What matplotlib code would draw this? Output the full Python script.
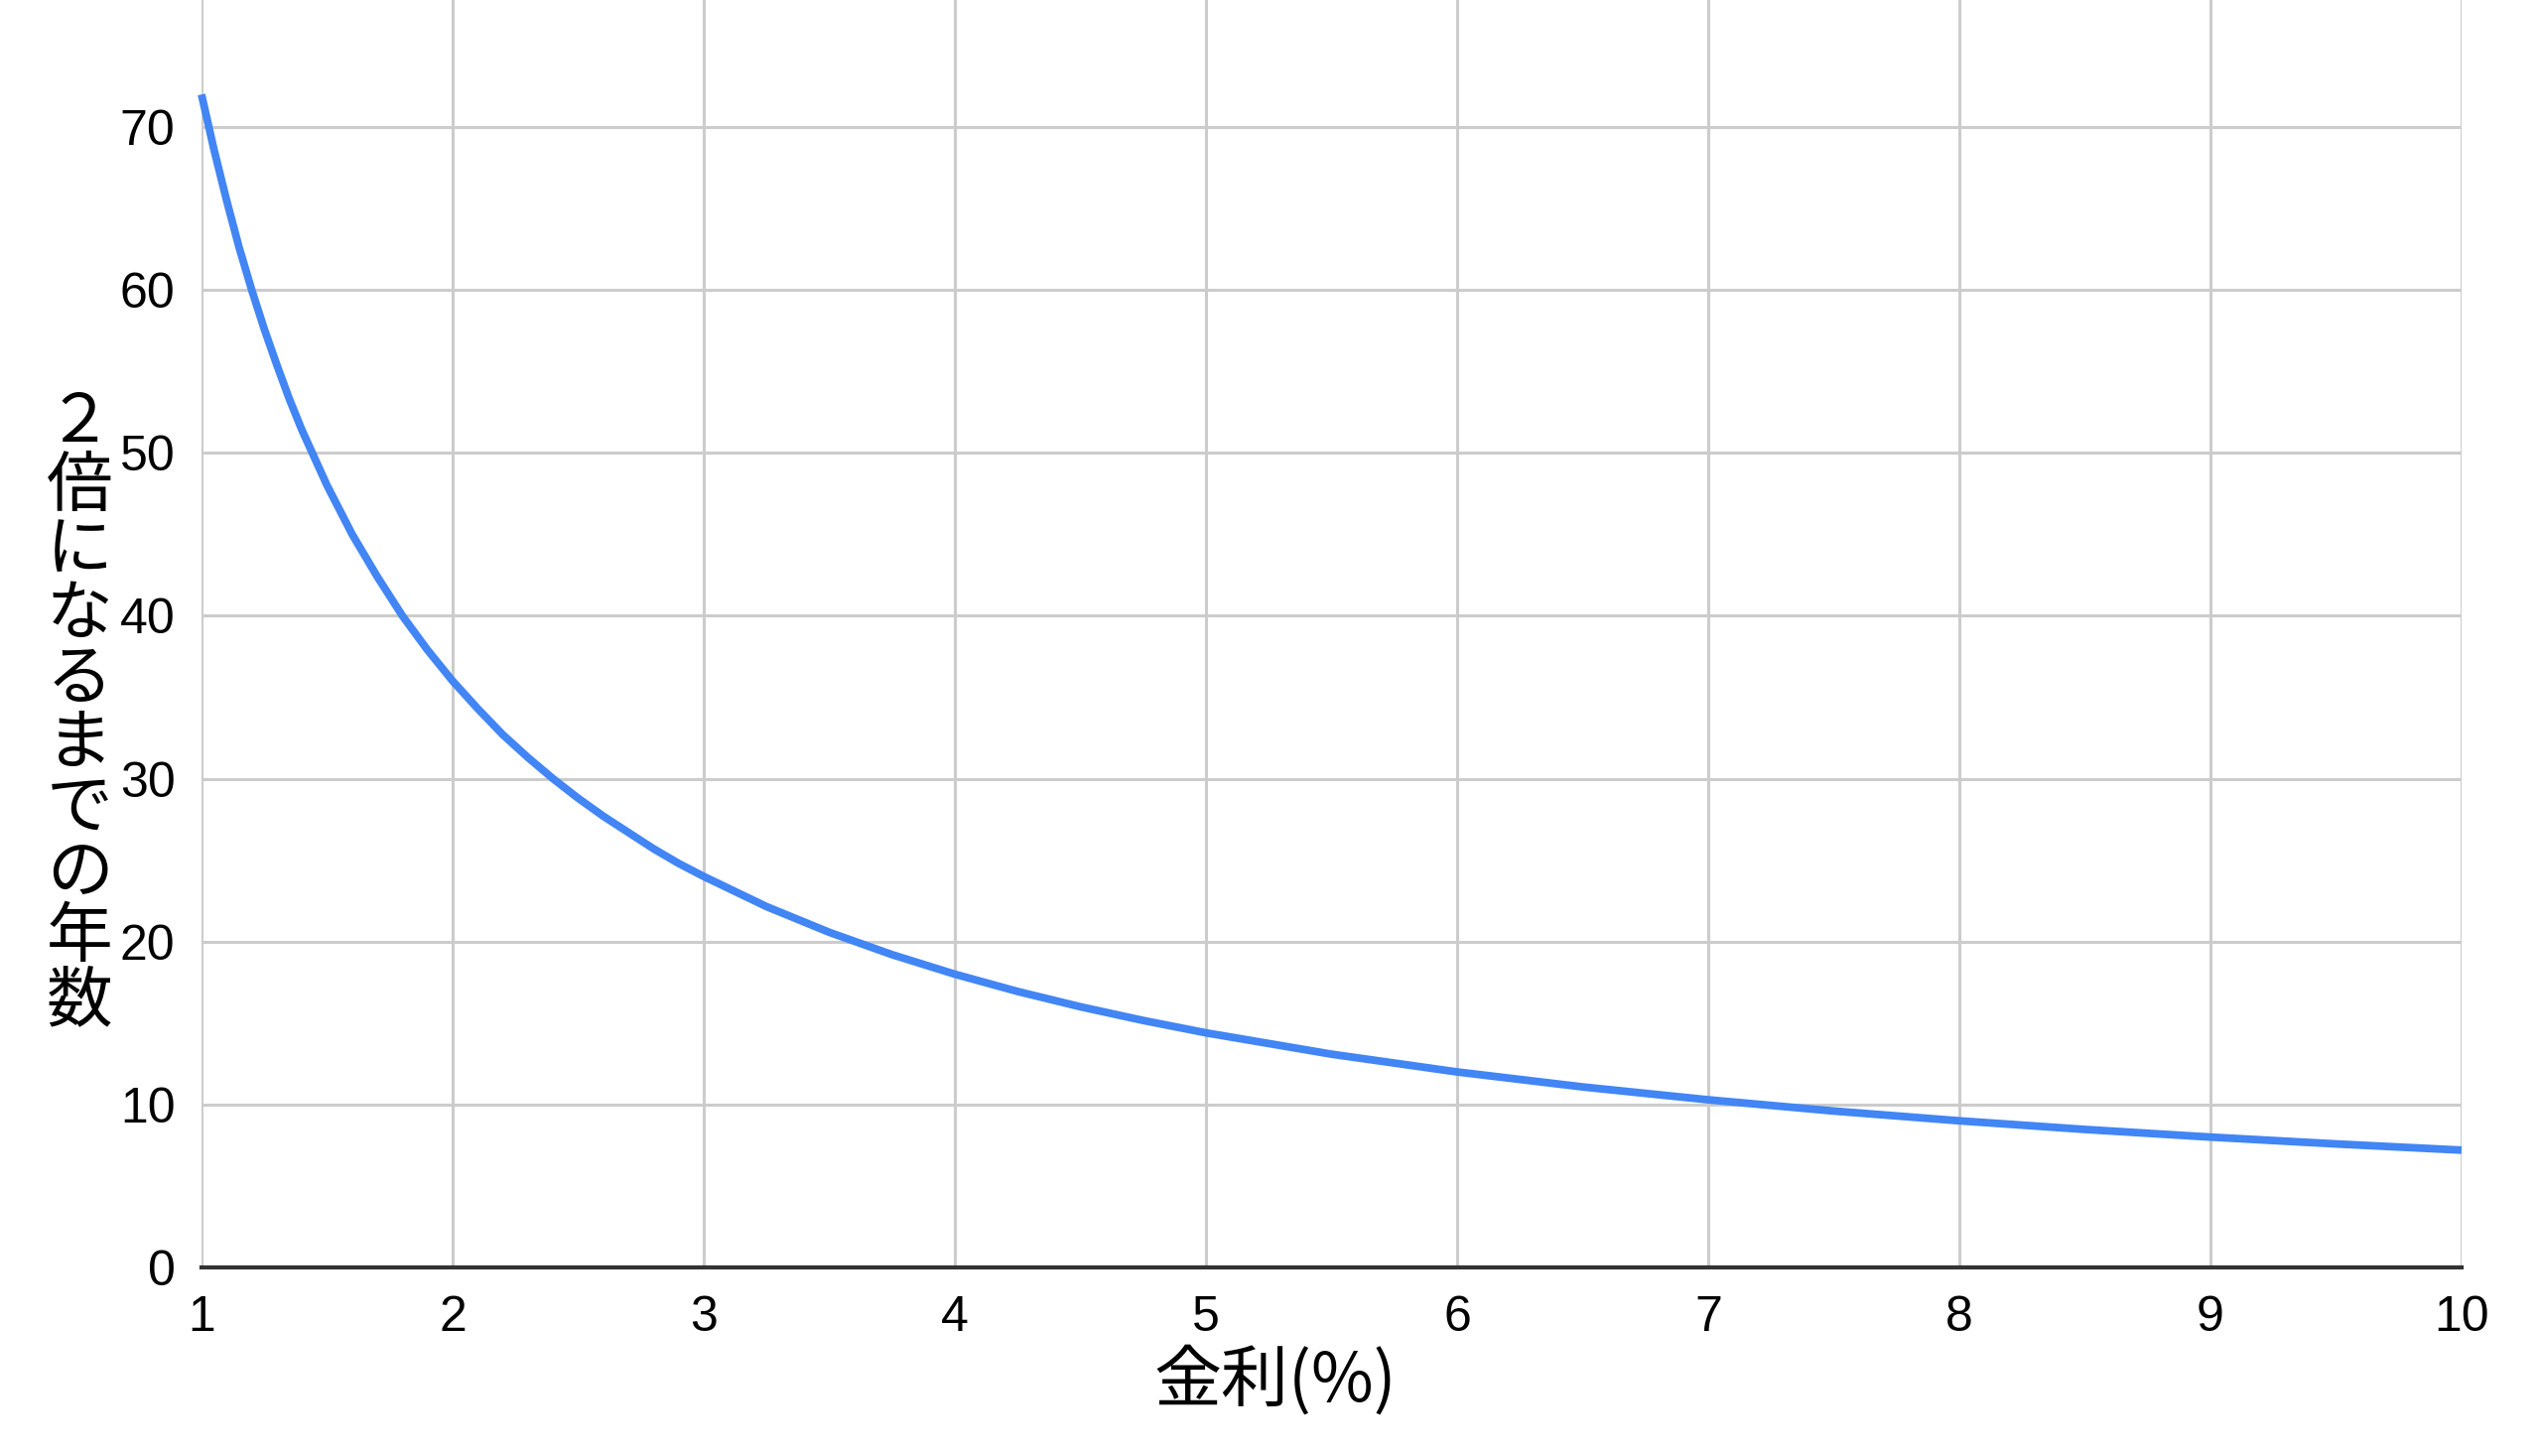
import matplotlib
matplotlib.use("Agg")
import matplotlib.pyplot as plt

# Data (interest rate % -> years to double)
rate = [1.0, 1.05, 1.1, 1.15, 1.2, 1.25, 1.3, 1.35, 1.4, 1.45,
        1.5, 1.6, 1.7, 1.8, 1.9,
        2.0, 2.1, 2.2, 2.3, 2.4, 2.5, 2.6, 2.7, 2.8, 2.9,
        3.0, 3.25, 3.5, 3.75, 4.0, 4.25, 4.5, 4.75, 5.0,
        5.5, 6.0, 6.5, 7.0, 7.5, 8.0, 8.5, 9.0, 9.5, 10.0]
years = [72.0, 68.6, 65.5, 62.6, 60.0, 57.6, 55.4, 53.3, 51.4, 49.7,
         48.0, 45.0, 42.4, 40.0, 37.9,
         36.0, 34.3, 32.7, 31.3, 30.0, 28.8, 27.7, 26.7, 25.7, 24.8,
         24.0, 22.15, 20.57, 19.2, 18.0, 16.94, 16.0, 15.16, 14.4,
         13.09, 12.0, 11.08, 10.29, 9.6, 9.0, 8.47, 8.0, 7.58, 7.2]
x_ticks = [1, 2, 3, 4, 5, 6, 7, 8, 9, 10]
y_ticks = [0, 10, 20, 30, 40, 50, 60, 70]
x_label = "金利(%)"
y_label = "２倍になるまでの年数"

W, H = 2560, 1467
fig = plt.figure(figsize=(W / 100, H / 100), dpi=100)
ax = fig.add_axes([203 / W, 1 - 1277 / H, (2480 - 203) / W, 1277 / H])

ax.plot(rate, years, color="#4285F4", lw=5.6, solid_capstyle="butt",
        solid_joinstyle="round", zorder=3, clip_on=False)

ax.set_xlim(1, 10)
ax.set_ylim(0, 77.8)
ax.set_xticks(x_ticks)
ax.set_yticks(y_ticks)
ax.set_xticklabels([str(v) for v in x_ticks])
ax.set_yticklabels([str(v) for v in y_ticks])

ax.grid(True, color="#cccccc", lw=2.2)
ax.set_axisbelow(True)
for s in ["top", "left", "right"]:
    ax.spines[s].set_visible(False)
ax.spines["bottom"].set_color("#333333")
ax.spines["bottom"].set_linewidth(3)
ax.spines["bottom"].set_zorder(4)

ax.tick_params(axis="both", length=0, labelsize=36, colors="#000000")
ax.tick_params(axis="y", pad=19)
ax.tick_params(axis="x", pad=20)
for lab in ax.get_xticklabels() + ax.get_yticklabels():
    lab.set_family(["Liberation Sans", "DejaVu Sans"])

fig.text(1285 / W, 1 - 1392 / H, x_label, ha="center", va="center",
         fontsize=49, family=["Noto Sans CJK JP", "DejaVu Sans"])
fig.text(80 / W, 1 - 718 / H, "\n".join(y_label), ha="center", va="center",
         fontsize=48, linespacing=0.95,
         family=["Noto Sans CJK JP", "DejaVu Sans"])

fig.savefig("out.png", dpi=100, facecolor="white")
